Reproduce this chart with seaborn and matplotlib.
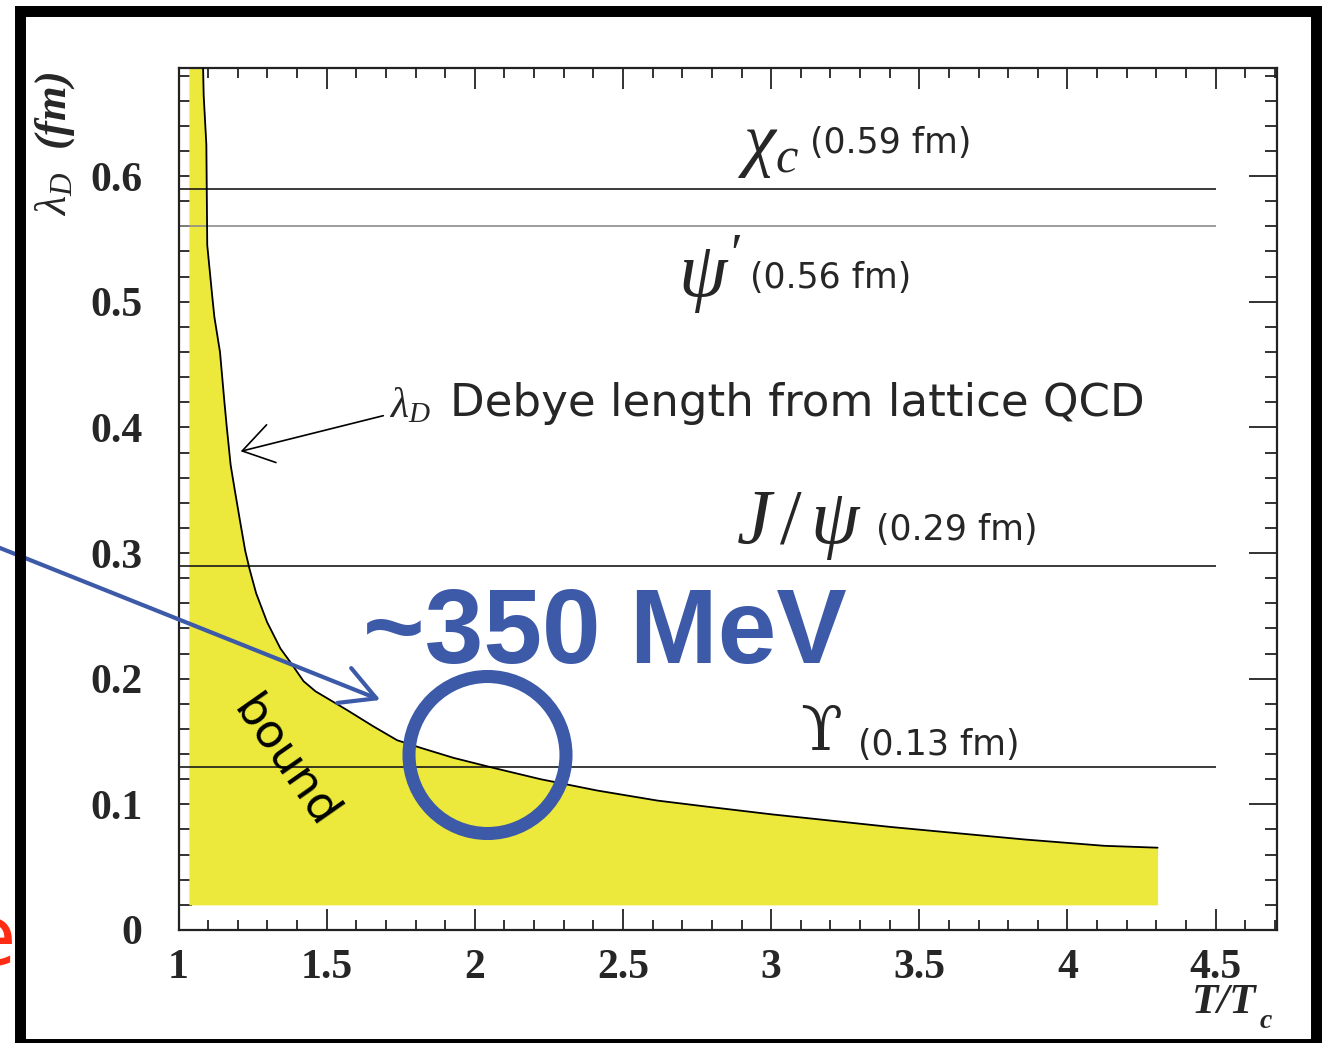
import matplotlib
matplotlib.use("Agg")
import matplotlib.pyplot as plt
from matplotlib.patches import Ellipse, Rectangle
from matplotlib.ticker import MultipleLocator
import seaborn as sns

# Debye length from lattice QCD vs T/Tc
t_ratio = [1.083, 1.085, 1.094, 1.097, 1.114, 1.121, 1.140, 1.155, 1.163, 1.176,
           1.190, 1.208, 1.225, 1.240, 1.262, 1.299, 1.344, 1.378, 1.422, 1.462,
           1.569, 1.658, 1.738, 1.817, 1.928, 2.063, 2.222, 2.413, 2.616, 2.789,
           3.003, 3.203, 3.403, 3.629, 3.857, 4.124, 4.304]
debye_len = [0.686, 0.664, 0.625, 0.545, 0.504, 0.488, 0.460, 0.420, 0.400, 0.370,
             0.350, 0.325, 0.302, 0.287, 0.268, 0.245, 0.224, 0.213, 0.198, 0.190,
             0.175, 0.162, 0.151, 0.145, 0.137, 0.129, 0.120, 0.111, 0.103, 0.098,
             0.092, 0.087, 0.082, 0.077, 0.072, 0.067, 0.0655]

# yellow "bound" band edges
band_left = 1.035
band_top = 0.686
band_floor = 0.02

# quarkonium radii (fm)
states = [r'$\chi_c$', r"$\psi'$", r'$J\,/\,\psi$', '\u03d2']
radii = [0.59, 0.56, 0.29, 0.13]
radius_labels = ['(0.59 fm)', '(0.56 fm)', '(0.29 fm)', '(0.13 fm)']
line_colors = ['#1a1a1a', '#8c8c8c', '#1a1a1a', '#1a1a1a']

x_ticks = [1, 1.5, 2, 2.5, 3, 3.5, 4, 4.5]
x_tick_labels = ['1', '1.5', '2', '2.5', '3', '3.5', '4', '4.5']
y_ticks = [0, 0.1, 0.2, 0.3, 0.4, 0.5, 0.6]
y_tick_labels = ['0', '0.1', '0.2', '0.3', '0.4', '0.5', '0.6']

sns.set_theme(style="ticks")
plt.rcParams['font.family'] = ['DejaVu Sans']
plt.rcParams['mathtext.fontset'] = 'custom'
plt.rcParams['mathtext.rm'] = 'Liberation Serif'
plt.rcParams['mathtext.it'] = 'Liberation Serif:italic'
plt.rcParams['mathtext.bf'] = 'Liberation Serif:bold'

W, H = 1323, 1043
BLUE = '#3d5aa9'


def px(x, y):
    # figure pixel (from top-left) -> figure fraction
    return x / W, 1 - y / H


fig = plt.figure(figsize=(W / 100, H / 100), dpi=100)
ax = fig.add_axes([178.5 / W, 1 - 930 / H, (1277 - 178.5) / W, (930 - 68) / H])

# yellow region under the curve
ax.fill_between([band_left] + t_ratio, band_floor, [band_top] + debye_len,
                color='#ece93c', lw=0, zorder=1)
sns.lineplot(x=t_ratio, y=debye_len, ax=ax, color='black', lw=1.3, sort=False, zorder=3)

for r, c in zip(radii, line_colors):
    ax.hlines(r, 1, 4.5, color=c, lw=1.2, zorder=2)

ax.set_xlim(1, 4.707)
ax.set_ylim(0, 0.686)
ax.set_xticks(x_ticks, x_tick_labels)
ax.set_yticks(y_ticks, y_tick_labels)
ax.xaxis.set_minor_locator(MultipleLocator(0.1))
ax.yaxis.set_minor_locator(MultipleLocator(0.02))
ax.tick_params(which='both', direction='in', top=True, right=True, color='#222222', width=1.3)
ax.xaxis.set_tick_params(which='major', length=15, pad=14)
ax.xaxis.set_tick_params(which='minor', length=7.5)
ax.yaxis.set_tick_params(which='major', length=20, pad=26)
ax.yaxis.set_tick_params(which='minor', length=9)
for lab in ax.get_xticklabels() + ax.get_yticklabels():
    lab.set_fontfamily('Liberation Serif')
    lab.set_fontweight('bold')
    lab.set_fontsize(30)
for s in ax.spines.values():
    s.set_linewidth(1.6)
    s.set_color('#222222')
ax.set_xlabel('')
ax.set_ylabel('')

# axis titles
fig.text(*px(55, 72), r'$\lambda_D$  (fm)', rotation=90, ha='center', va='top',
         fontsize=32, family='Liberation Serif', style='italic', weight='bold')
fig.text(*px(1224, 1003), 'T/T', ha='center', va='center', fontsize=31,
         family='Liberation Serif', style='italic', weight='bold')
fig.text(*px(1266, 1022), 'c', ha='center', va='center', fontsize=20,
         family='Liberation Serif', style='italic', weight='bold')

# state labels
sym_pos = [(738, 145), (678, 275), (736, 524), (800, 733)]
sym_size = [52, 56, 56, 44]
lab_pos = [(810, 143), (750, 278), (876, 530), (858, 745)]
for s, lab, sp, ss, lp in zip(states, radius_labels, sym_pos, sym_size, lab_pos):
    fig.text(*px(*sp), s, fontsize=ss, ha='left', va='center',
             family=['DejaVu Serif'] if s == '\u03d2' else None)
    fig.text(*px(*lp), lab, fontsize=25, ha='left', va='center')

fig.text(*px(389, 405), r'$\lambda_D$', fontsize=30, ha='left', va='center')
fig.text(*px(450, 403), 'Debye length from lattice QCD', fontsize=32.5, ha='left', va='center')
ax.annotate('', xy=(238, H - 452), xytext=(386, H - 415), xycoords='figure pixels',
            arrowprops=dict(arrowstyle='->,head_length=1.08,head_width=0.7',
                            mutation_scale=20, color='black', lw=1.2))

fig.text(*px(285, 762), 'bound', rotation=-55, ha='center', va='center',
         rotation_mode='anchor', fontsize=34, color='black')

# slide overlay: blue callout
fig.text(*px(363, 636), '~350 MeV', family='Liberation Sans', weight='bold',
         fontsize=76, color=BLUE, ha='left', va='center')
ax.annotate('', xy=(383, H - 701), xytext=(-5, H - 546), xycoords='figure pixels',
            arrowprops=dict(arrowstyle='->,head_length=0.83,head_width=0.45',
                            mutation_scale=30, color=BLUE, lw=3))
fig.add_artist(Ellipse(px(487.5, 755), 2 * 78.5 / W, 2 * 78.5 / H,
                       transform=fig.transFigure, fill=False, lw=9.4, ec=BLUE))

# slide frame and clipped red text on the left
fig.add_artist(Rectangle((19.5 / W, -0.5 / H), 1296 / W, 1033 / H,
                         transform=fig.transFigure, fill=False, lw=7.9, ec='black'))
fig.text(*px(16, 942), 'e', color='#ff2b12', fontsize=60, ha='right', va='center')

fig.savefig('out.png', dpi=100)
